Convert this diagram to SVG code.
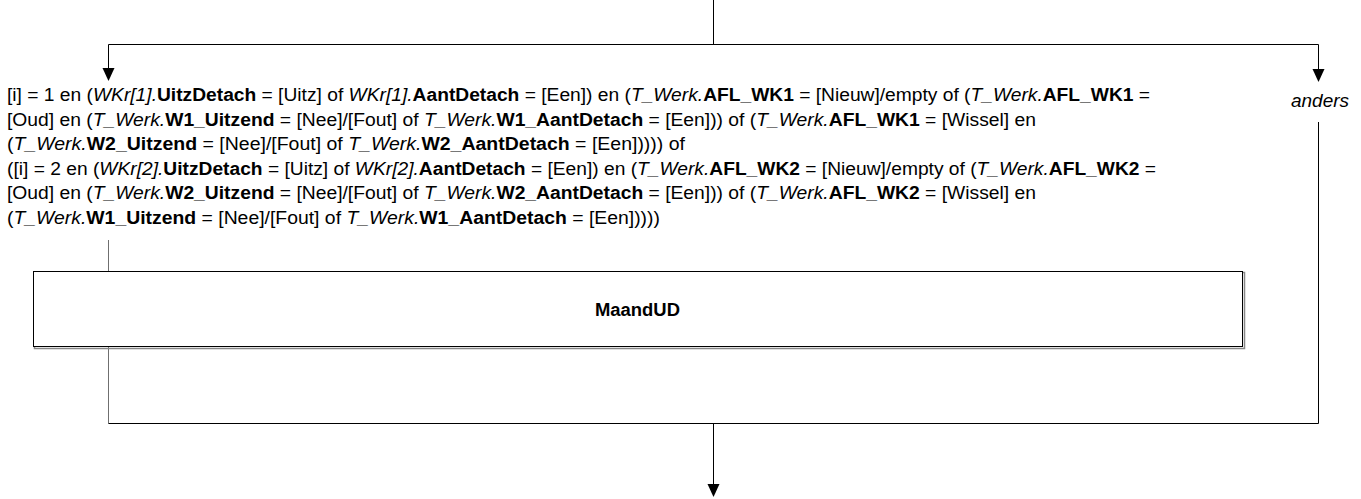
<svg xmlns="http://www.w3.org/2000/svg" width="1361" height="499" viewBox="0 0 1361 499">
<style>
  .t { font-family: "Liberation Sans", Arial, sans-serif; font-size: 18px; fill: #000; }
  .i { font-style: italic; }
  .b { font-weight: bold; }
  .ln { stroke: #000; stroke-width: 1; fill: none; }
  .lg { stroke: #6f6f6f; stroke-width: 1; fill: none; }
  .ah { fill: #000; }
</style>
<rect width="1361" height="499" fill="#fff"/>
<g id="connectors">
  <path class="ln" d="M713.5,0 V44.5"/>
  <path class="ln" d="M108.5,44.5 H1318.5"/>
  <path class="ln" d="M108.5,44.5 V68"/>
  <path class="ah" d="M102.5,68 L114.5,68 L108.5,81 Z"/>
  <path class="ln" d="M1318.5,44.5 V69"/>
  <path class="ah" d="M1312.5,69 L1324.5,69 L1318.5,82 Z"/>
  <path class="lg" d="M108.5,240 V271"/>
  <path class="lg" d="M108.5,347 V423.5"/>
  <path class="ln" d="M108.5,423.5 H1318.5 V122"/>
  <path class="ln" d="M713.5,423.5 V484"/>
  <path class="ah" d="M707.5,484 L719.5,484 L713.5,497 Z"/>
</g>
<g id="condition">
  <text class="t" x="7" y="101" textLength="1143" lengthAdjust="spacingAndGlyphs">[i] = 1 en (<tspan class="i">WKr[1].</tspan><tspan class="b">UitzDetach</tspan> = [Uitz] of <tspan class="i">WKr[1].</tspan><tspan class="b">AantDetach</tspan> = [Een]) en (<tspan class="i">T_Werk.</tspan><tspan class="b">AFL_WK1</tspan> = [Nieuw]/empty of (<tspan class="i">T_Werk.</tspan><tspan class="b">AFL_WK1</tspan> =</text>
  <text class="t" x="7" y="125.5" textLength="1029" lengthAdjust="spacingAndGlyphs">[Oud] en (<tspan class="i">T_Werk.</tspan><tspan class="b">W1_Uitzend</tspan> = [Nee]/[Fout] of <tspan class="i">T_Werk.</tspan><tspan class="b">W1_AantDetach</tspan> = [Een])) of (<tspan class="i">T_Werk.</tspan><tspan class="b">AFL_WK1</tspan> = [Wissel] en</text>
  <text class="t" x="7" y="150" textLength="678" lengthAdjust="spacingAndGlyphs">(<tspan class="i">T_Werk.</tspan><tspan class="b">W2_Uitzend</tspan> = [Nee]/[Fout] of <tspan class="i">T_Werk.</tspan><tspan class="b">W2_AantDetach</tspan> = [Een])))) of</text>
  <text class="t" x="7" y="174.5" textLength="1149" lengthAdjust="spacingAndGlyphs">([i] = 2 en (<tspan class="i">WKr[2].</tspan><tspan class="b">UitzDetach</tspan> = [Uitz] of <tspan class="i">WKr[2].</tspan><tspan class="b">AantDetach</tspan> = [Een]) en (<tspan class="i">T_Werk.</tspan><tspan class="b">AFL_WK2</tspan> = [Nieuw]/empty of (<tspan class="i">T_Werk.</tspan><tspan class="b">AFL_WK2</tspan> =</text>
  <text class="t" x="7" y="199" textLength="1029" lengthAdjust="spacingAndGlyphs">[Oud] en (<tspan class="i">T_Werk.</tspan><tspan class="b">W2_Uitzend</tspan> = [Nee]/[Fout] of <tspan class="i">T_Werk.</tspan><tspan class="b">W2_AantDetach</tspan> = [Een])) of (<tspan class="i">T_Werk.</tspan><tspan class="b">AFL_WK2</tspan> = [Wissel] en</text>
  <text class="t" x="7" y="223.5" textLength="653" lengthAdjust="spacingAndGlyphs">(<tspan class="i">T_Werk.</tspan><tspan class="b">W1_Uitzend</tspan> = [Nee]/[Fout] of <tspan class="i">T_Werk.</tspan><tspan class="b">W1_AantDetach</tspan> = [Een]))))</text>
</g>
<g id="anders">
  <text class="t i" x="1291" y="107" textLength="58" lengthAdjust="spacingAndGlyphs">anders</text>
</g>
<g id="MaandUD">
  <rect x="34.5" y="272.5" width="1210" height="76" fill="none" stroke="#888" stroke-width="1.5"/>
  <rect x="33.5" y="271.5" width="1209" height="75" fill="#fff" stroke="#000" stroke-width="1"/>
  <text class="t b" x="595" y="316" textLength="85" lengthAdjust="spacingAndGlyphs">MaandUD</text>
</g>
</svg>
